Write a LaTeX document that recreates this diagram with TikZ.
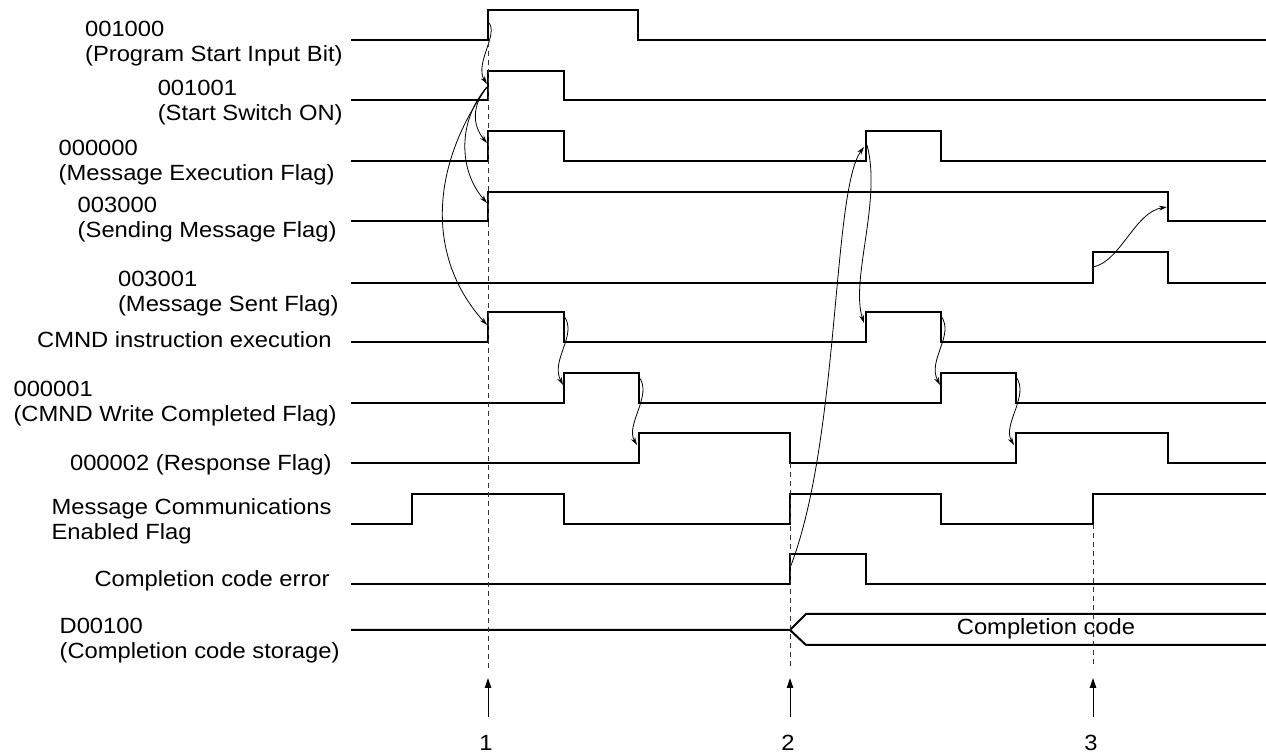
\documentclass[tikz,border=0pt]{standalone}
\usepackage{fontspec}
\setmainfont{Liberation Sans}[FakeStretch=1.08]
\usetikzlibrary{arrows.meta}

\begin{document}
\begin{tikzpicture}[x=0.5pt, y=-0.5pt,
  font=\fontsize{11}{12.5}\selectfont,
  sig/.style={line width=1pt, line join=miter},
  signame/.style={anchor=east, align=left, inner sep=0pt},
  cause/.style={line width=0.4pt, -{Stealth[length=4pt, width=2.4pt]}},
  guide/.style={line width=0.5pt, black!80, dash pattern=on 2.5pt off 2pt},
  uparrow/.style={line width=0.5pt, -{Triangle[length=5pt, width=3.2pt]}}]
  \useasboundingbox (0,0) rectangle (1266,754);

  % Signal names
  \node[signame] (n1) at (343,44) {001000\\(Program Start Input Bit)};
  \node[signame] (n2) at (343,103) {001001\\(Start Switch ON)};
  \node[signame] (n3) at (335,163) {000000\\(Message Execution Flag)};
  \node[signame] (n4) at (337,220) {003000\\(Sending Message Flag)};
  \node[signame] (n5) at (339,294) {003001\\(Message Sent Flag)};
  \node[signame] (n6) at (332,340) {CMND instruction execution};
  \node[signame] (n7) at (337,404) {000001\\(CMND Write Completed Flag)};
  \node[signame] (n8) at (332,465) {000002 (Response Flag)};
  \node[signame] (n9) at (332,521) {Message Communications\\Enabled Flag};
  \node[signame] (n10) at (330,581) {Completion code error};
  \node[signame] (n11) at (340,641) {D00100\\(Completion code storage)};

  % Waveforms
  \draw[sig] (351,40) -- (488,40) -- (488,10) -- (638,10) -- (638,40) -- (1266,40);
  \draw[sig] (351,100) -- (488,100) -- (488,71) -- (564,71) -- (564,100) -- (1266,100);
  \draw[sig] (351,161) -- (488,161) -- (488,131) -- (564,131) -- (564,161) -- (866,161)
    -- (866,131) -- (941,131) -- (941,161) -- (1266,161);
  \draw[sig] (351,221) -- (488,221) -- (488,192) -- (1168,192) -- (1168,221) -- (1266,221);
  \draw[sig] (351,283) -- (1093,283) -- (1093,252) -- (1168,252) -- (1168,283) -- (1266,283);
  \draw[sig] (351,342) -- (488,342) -- (488,312) -- (564,312) -- (564,342) -- (866,342)
    -- (866,312) -- (941,312) -- (941,342) -- (1266,342);
  \draw[sig] (351,403) -- (564,403) -- (564,373) -- (639,373) -- (639,403) -- (941,403)
    -- (941,373) -- (1016,373) -- (1016,403) -- (1266,403);
  \draw[sig] (351,463) -- (639,463) -- (639,433) -- (790,433) -- (790,463) -- (1016,463)
    -- (1016,433) -- (1168,433) -- (1168,463) -- (1266,463);
  \draw[sig] (351,524) -- (412,524) -- (412,494) -- (564,494) -- (564,524) -- (790,524)
    -- (790,494) -- (941,494) -- (941,524) -- (1093,524) -- (1093,494) -- (1266,494);
  \draw[sig] (351,584) -- (790,584) -- (790,554) -- (866,554) -- (866,584) -- (1266,584);
  % data bus
  \draw[sig] (351,630) -- (790,630) -- (806,614) -- (1266,614);
  \draw[sig] (790,630) -- (806,645) -- (1266,645);
  \node (code) at (1046,629) {Completion code};

  % Edge points
  \coordinate (s1) at (488,22);
  \coordinate (e2) at (487,84);
  \coordinate (s2) at (487,87);
  \coordinate (e3) at (487,143);
  \coordinate (e4) at (487,203);
  \coordinate (e6) at (487,325);
  \coordinate (s6) at (564,316);
  \coordinate (e7) at (563,385);
  \coordinate (s7) at (639,377);
  \coordinate (e8) at (637,445);
  \coordinate (s6b) at (941,316);
  \coordinate (e7b) at (940,385);
  \coordinate (s7b) at (1016,377);
  \coordinate (e8b) at (1014,445);
  \coordinate (s10) at (790,568);
  \coordinate (e3b) at (864,147);
  \coordinate (s3b) at (867,145);
  \coordinate (e6b) at (864,323);
  \coordinate (s5) at (1093,267);
  \coordinate (e4b) at (1167,207);

  % Cause and effect
  \draw[cause] (s1) .. controls (500,32) and (474,64) .. (e2);
  \draw[cause] (s2) .. controls (472,105) and (472,125) .. (e3);
  \draw[cause] (s2) .. controls (458,120) and (458,170) .. (e4);
  \draw[cause] (s2) .. controls (428,170) and (428,260) .. (e6);
  \draw[cause] (s6) .. controls (578,335) and (550,360) .. (e7);
  \draw[cause] (s7) .. controls (653,395) and (625,425) .. (e8);
  \draw[cause] (s6b) .. controls (955,335) and (927,360) .. (e7b);
  \draw[cause] (s7b) .. controls (1030,395) and (1002,425) .. (e8b);
  \draw[cause] (s10) .. controls (840,440) and (832,190) .. (e3b);
  \draw[cause] (s3b) .. controls (882,200) and (850,280) .. (e6b);
  \draw[cause] (s5) .. controls (1120,262) and (1135,212) .. (e4b);

  % Timing points 1, 2 and 3
  \foreach \t/\ya/\nm in {488/42/1, 790/463/2, 1093/524/3} {
    \draw[guide] (\t,\ya) -- (\t,668);
    \coordinate (b\nm) at (\t,717);
    \coordinate (p\nm) at (\t,678);
    \draw[uparrow] (b\nm) -- (p\nm);
    \node (t\nm) at (\t-2,743) {\nm};
  }
\end{tikzpicture}
\end{document}
